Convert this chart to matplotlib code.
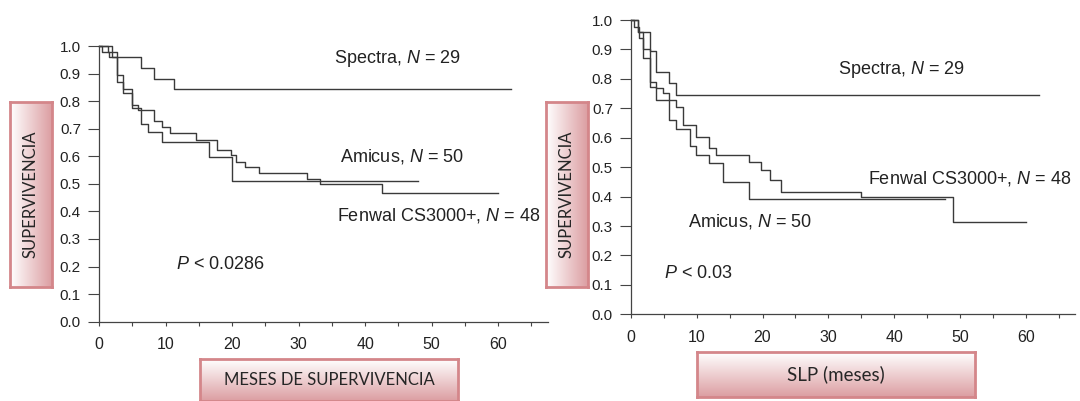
import matplotlib
matplotlib.use("Agg")
import matplotlib.pyplot as plt
import numpy as np
from matplotlib.colors import LinearSegmentedColormap

plt.rcParams['font.family'] = ['Liberation Sans', 'DejaVu Sans']
plt.rcParams['mathtext.fontset'] = 'custom'
plt.rcParams['mathtext.rm'] = 'Liberation Sans'
plt.rcParams['mathtext.it'] = 'Liberation Sans:italic'

# --- left panel: overall survival (months, survival fraction) ---
spectra_os_t = [0, 2.0, 6.3, 8.2, 11.3, 62]
spectra_os_s = [1.0, 0.96, 0.92, 0.88, 0.845, 0.845]
fenwal_os_t = [0, 1.3, 2.7, 3.6, 4.9, 5.8, 8.3, 9.5, 10.6, 14.6, 17.8, 19.9,
               20.6, 22.0, 24.0, 31.3, 33.2, 42.6, 60]
fenwal_os_s = [1.0, 0.98, 0.896, 0.844, 0.787, 0.768, 0.729, 0.705, 0.683, 0.659,
               0.623, 0.605, 0.58, 0.56, 0.54, 0.516, 0.498, 0.468, 0.468]
amicus_os_t = [0, 0.5, 1.5, 2.7, 3.6, 4.9, 6.3, 7.3, 9.5, 16.6, 20.0, 48]
amicus_os_s = [1.0, 0.98, 0.96, 0.87, 0.83, 0.775, 0.717, 0.689, 0.653, 0.598, 0.511, 0.511]

# --- right panel: progression free survival ---
spectra_pfs_t = [0, 1.0, 2.9, 3.8, 5.8, 6.9, 62]
spectra_pfs_s = [1.0, 0.96, 0.893, 0.825, 0.786, 0.746, 0.746]
fenwal_pfs_t = [0, 0.5, 1.2, 1.9, 2.9, 3.8, 4.9, 5.8, 6.9, 7.9, 9.9, 11.8, 12.9,
                17.9, 19.7, 21.1, 22.8, 34.9, 48.9, 60]
fenwal_pfs_s = [1.0, 0.977, 0.94, 0.87, 0.79, 0.769, 0.752, 0.729, 0.706, 0.644,
                0.604, 0.565, 0.542, 0.519, 0.491, 0.457, 0.414, 0.398, 0.312, 0.312]
amicus_pfs_t = [0, 1.0, 1.9, 2.9, 3.8, 5.8, 6.9, 8.9, 9.9, 11.8, 14.0, 17.9, 47.8]
amicus_pfs_s = [1.0, 0.96, 0.90, 0.774, 0.729, 0.661, 0.629, 0.572, 0.542, 0.514,
                0.451, 0.391, 0.391]

ylabel_text = "SUPERVIVENCIA"
xlabel_left = "MESES DE SUPERVIVENCIA"
xlabel_right = "SLP (meses)"

LINE = "#3a3a3a"
PINK = "#dc9ea2"
EDGE = "#d4868a"

fig = plt.figure(figsize=(10.8, 4.01), dpi=100)
pink_cmap = LinearSegmentedColormap.from_list("pk", ["#ffffff", PINK])


def km_panel(rect, curves, notes):
    ax = fig.add_axes(rect)
    for t, s in curves:
        ax.step(t, s, where="post", color=LINE, lw=1.0, clip_on=False)
    for x, y, txt in notes:
        ax.text(x, y, txt, fontsize=13, va="center", ha="left", color="#222222")
    ax.set_xlim(0, 67.5)
    ax.set_ylim(0, 1.0)
    ax.set_xticks(np.arange(0, 61, 10))
    ax.set_xticks(np.arange(5, 66, 10), minor=True)
    ax.set_yticks(np.arange(0, 1.01, 0.1))
    ax.set_yticklabels([f"{v:.1f}" for v in np.arange(0, 1.01, 0.1)])
    ax.tick_params(axis="y", length=8, width=0.8, labelsize=11, pad=5, colors="#444444", labelcolor="#222222")
    ax.tick_params(axis="x", which="both", length=3, width=0.8, labelsize=11.5, pad=8, colors="#444444", labelcolor="#222222")
    for side in ("top", "right"):
        ax.spines[side].set_visible(False)
    for side in ("left", "bottom"):
        ax.spines[side].set_color("#444444")
        ax.spines[side].set_linewidth(0.9)
    return ax


def label_box(rect, text, vertical, size):
    bx = fig.add_axes(rect)
    if vertical:
        grad = np.linspace(0, 1, 100).reshape(1, -1)
    else:
        grad = np.linspace(0.15, 1, 100).reshape(-1, 1)
    bx.imshow(grad, cmap=pink_cmap, aspect="auto", extent=(0, 1, 0, 1), origin="upper" if not vertical else "lower")
    bx.set_xticks([])
    bx.set_yticks([])
    for sp in bx.spines.values():
        sp.set_color(EDGE)
        sp.set_linewidth(2)
    bx.text(0.5, 0.5, text, rotation=90 if vertical else 0, ha="center", va="center",
            fontsize=size, family=["Lato", "DejaVu Sans"], color="#262626")
    return bx


km_panel([99 / 1080, 79.3 / 401, 449 / 1080, 275.7 / 401],
         [(spectra_os_t, spectra_os_s), (fenwal_os_t, fenwal_os_s), (amicus_os_t, amicus_os_s)],
         [(35.3, 0.953, "Spectra, $N$ = 29"),
          (36.2, 0.598, "Amicus, $N$ = 50"),
          (35.8, 0.387, "Fenwal CS3000+, $N$ = 48"),
          (11.6, 0.208, "$P$ < 0.0286")])

km_panel([631 / 1080, 86.7 / 401, 444 / 1080, 294.3 / 401],
         [(spectra_pfs_t, spectra_pfs_s), (fenwal_pfs_t, fenwal_pfs_s), (amicus_pfs_t, amicus_pfs_s)],
         [(31.5, 0.833, "Spectra, $N$ = 29"),
          (36.0, 0.462, "Fenwal CS3000+, $N$ = 48"),
          (8.6, 0.317, "Amicus, $N$ = 50"),
          (5.0, 0.137, "$P$ < 0.03")])

label_box([10 / 1080, 114 / 401, 42 / 1080, 185 / 401], ylabel_text, True, 12)
label_box([546 / 1080, 114 / 401, 42 / 1080, 185 / 401], ylabel_text, True, 12)
label_box([200 / 1080, 0 / 401, 258 / 1080, 42 / 401], xlabel_left, False, 12)
label_box([697 / 1080, 4 / 401, 278 / 1080, 45 / 401], xlabel_right, False, 13.5)

fig.savefig("out.png", dpi=100)
